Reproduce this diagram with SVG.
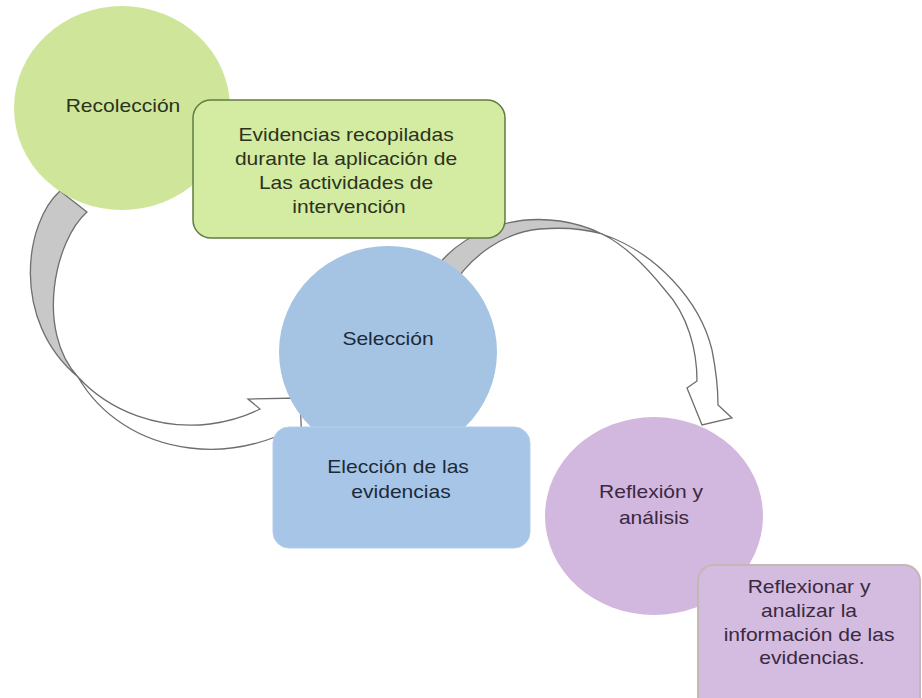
<svg xmlns="http://www.w3.org/2000/svg" width="922" height="698" viewBox="0 0 922 698">
<style>
.t{font-family:"Liberation Sans",Arial,sans-serif;font-size:18px;text-anchor:middle}
.g{fill:#2b3320}.b{fill:#1c2a3a}.p{fill:#3a2940}
.band{fill:#c8c8c8;stroke:#6e6e6e;stroke-width:1.3;stroke-linejoin:round}
.white{fill:#ffffff;stroke:#6e6e6e;stroke-width:1.3;stroke-linejoin:miter}
</style>
<rect width="922" height="698" fill="#ffffff"/>
<g id="connectors">
  <g id="arrow-recoleccion-seleccion">
    <path class="white" d="M78,377 C110,412 160,430 210,424 C232,421 248,415 260,409 L248,399 L300,398 L302,445 L278,436 C250,447 220,452 190,448 C140,442 100,415 78,377 Z"/>
    <path class="band" d="M60,191 C25,222 10,320 78,377 C35,330 55,240 87,212 Z"/>
  </g>
  <g id="arrow-seleccion-reflexion">
    <path class="white" d="M602,234 C655,252 700,300 712,350 C716,370 718,390 718,405 L732,418 L702,425 L687,388 L697,381 C697,350 688,315 665,290 C645,265 625,245 602,234 Z"/>
    <path class="band" d="M430,275 C460,232 510,214 560,221 C580,224 592,229 602,234 C585,229 565,227 540,229 C505,232 470,255 450,290 Z"/>
  </g>
</g>
<g id="recoleccion">
  <ellipse cx="122" cy="108" rx="108" ry="102" fill="#cfe69a"/>
  <text class="t g" transform="translate(123,0) scale(1.17,1)" y="112">Recolección</text>
</g>
<g id="recoleccion-nota">
  <rect x="193" y="100" width="312" height="138" rx="18" fill="#d4eba2" stroke="#5e7d40" stroke-width="1.5"/>
  <text class="t g" transform="translate(349,0) scale(1.17,1)">
    <tspan x="0" y="141">Evidencias recopiladas</tspan>
    <tspan x="0" y="165">durante la aplicación de</tspan>
    <tspan x="0" y="189">Las actividades de</tspan>
    <tspan x="0" y="213">intervención</tspan>
  </text>
</g>
<g id="seleccion">
  <ellipse cx="388" cy="352" rx="109" ry="106" fill="#a5c4e4"/>
  <text class="t b" transform="translate(388,0) scale(1.17,1)" y="345">Selección</text>
</g>
<g id="seleccion-nota">
  <rect x="273" y="427" width="257" height="121" rx="16" fill="#a7c5e6" stroke="#b4cde9" stroke-width="1"/>
  <text class="t b" transform="translate(401,0) scale(1.17,1)">
    <tspan x="0" y="473">Elección de las</tspan>
    <tspan x="0" y="498">evidencias</tspan>
  </text>
</g>
<g id="reflexion">
  <ellipse cx="654" cy="516" rx="109" ry="99" fill="#d2b7de"/>
  <text class="t p" transform="translate(654,0) scale(1.17,1)">
    <tspan x="0" y="498">Reflexión y</tspan>
    <tspan x="0" y="524">análisis</tspan>
  </text>
</g>
<g id="reflexion-nota">
  <rect x="698" y="565" width="222" height="150" rx="16" fill="#d4bce0" stroke="#c4b8b4" stroke-width="2"/>
  <text class="t p" transform="translate(812,0) scale(1.17,1)">
    <tspan x="0" y="593">Reflexionar y</tspan>
    <tspan x="0" y="617">analizar la</tspan>
    <tspan x="0" y="641">información de las</tspan>
    <tspan x="0" y="664">evidencias.</tspan>
  </text>
</g>
</svg>
